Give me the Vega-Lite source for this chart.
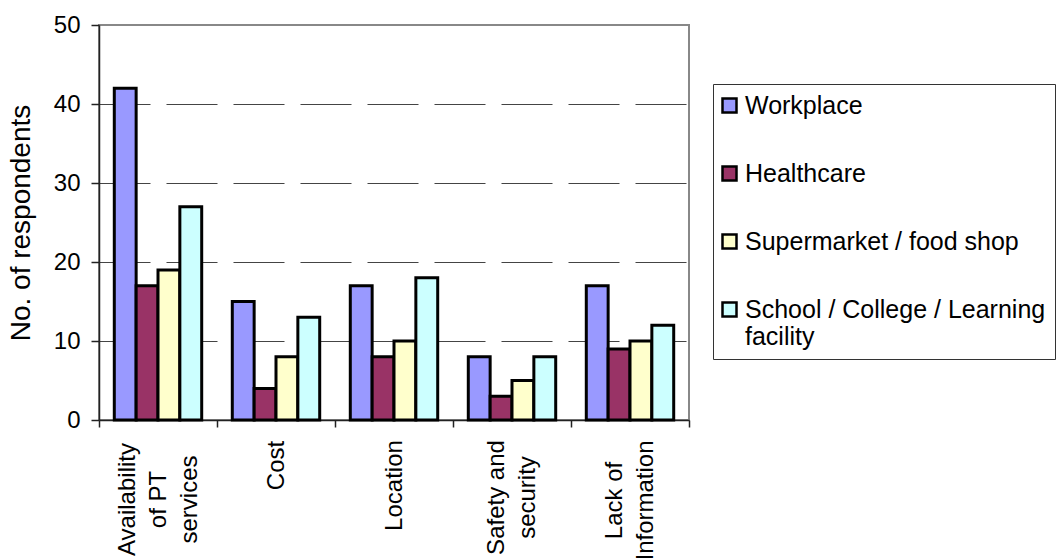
{
  "$schema": "https://vega.github.io/schema/vega-lite/v6.json",
  "width": 590,
  "height": 395,
  "autosize": {"type": "none"},
  "padding": {"left": 99, "top": 25, "right": 371, "bottom": 138},
  "background": "white",
  "data": {
    "values": [
      {"barrier": "Availability of PT services", "destination": "Workplace", "count": 42},
      {"barrier": "Availability of PT services", "destination": "Healthcare", "count": 17},
      {"barrier": "Availability of PT services", "destination": "Supermarket / food shop", "count": 19},
      {"barrier": "Availability of PT services", "destination": "School / College / Learning facility", "count": 27},
      {"barrier": "Cost", "destination": "Workplace", "count": 15},
      {"barrier": "Cost", "destination": "Healthcare", "count": 4},
      {"barrier": "Cost", "destination": "Supermarket / food shop", "count": 8},
      {"barrier": "Cost", "destination": "School / College / Learning facility", "count": 13},
      {"barrier": "Location", "destination": "Workplace", "count": 17},
      {"barrier": "Location", "destination": "Healthcare", "count": 8},
      {"barrier": "Location", "destination": "Supermarket / food shop", "count": 10},
      {"barrier": "Location", "destination": "School / College / Learning facility", "count": 18},
      {"barrier": "Safety and security", "destination": "Workplace", "count": 8},
      {"barrier": "Safety and security", "destination": "Healthcare", "count": 3},
      {"barrier": "Safety and security", "destination": "Supermarket / food shop", "count": 5},
      {"barrier": "Safety and security", "destination": "School / College / Learning facility", "count": 8},
      {"barrier": "Lack of Information", "destination": "Workplace", "count": 17},
      {"barrier": "Lack of Information", "destination": "Healthcare", "count": 9},
      {"barrier": "Lack of Information", "destination": "Supermarket / food shop", "count": 10},
      {"barrier": "Lack of Information", "destination": "School / College / Learning facility", "count": 12}
    ]
  },
  "mark": {"type": "bar", "stroke": "black", "strokeWidth": 3, "opacity": 1},
  "encoding": {
    "x": {
      "field": "barrier",
      "type": "nominal",
      "sort": ["Availability of PT services", "Cost", "Location", "Safety and security", "Lack of Information"],
      "scale": {"paddingInner": 0, "paddingOuter": 0},
      "axis": {
        "title": null,
        "tickBand": "extent",
        "labelAngle": -90,
        "labelAlign": "center",
        "labelBaseline": "middle",
        "labelFontSize": 24,
        "labelLineHeight": 31,
        "labelColor": "black",
        "labelOverlap": false,
        "labelLimit": 0,
        "labelExpr": "datum.value == 'Availability of PT services' ? ['Availability', 'of PT', 'services'] : datum.value == 'Safety and security' ? ['Safety and', 'security'] : datum.value == 'Lack of Information' ? ['Lack of', 'Information'] : datum.value",
        "labelPadding": {
          "condition": [
            {"test": "datum.value == 'Cost'", "value": 38},
            {"test": "datum.value == 'Location'", "value": 58},
            {"test": "datum.value == 'Safety and security'", "value": 70},
            {"test": "datum.value == 'Lack of Information'", "value": 73}
          ],
          "value": 72
        },
        "labelOffset": {
          "condition": [
            {"test": "datum.value == 'Availability of PT services'", "value": -31},
            {"test": "datum.value == 'Safety and security' || datum.value == 'Lack of Information'", "value": -15.5}
          ],
          "value": 0
        },
        "tickSize": 7,
        "tickColor": "#222",
        "tickWidth": 1.5,
        "domainColor": "#222",
        "domainWidth": 1.5,
        "grid": false
      }
    },
    "xOffset": {
      "field": "destination",
      "type": "nominal",
      "sort": ["Workplace", "Healthcare", "Supermarket / food shop", "School / College / Learning facility"],
      "scale": {"paddingInner": 0, "paddingOuter": 0.7}
    },
    "y": {
      "field": "count",
      "type": "quantitative",
      "scale": {"domain": [0, 50], "nice": false},
      "axis": {
        "title": "No. of respondents",
        "titleFontSize": 28,
        "titleFontWeight": "normal",
        "titleColor": "black",
        "titlePadding": 18,
        "values": [0, 10, 20, 30, 40, 50],
        "tickSize": 8,
        "tickColor": "#222",
        "tickWidth": 1.5,
        "labelPadding": 11,
        "labelFontSize": 24,
        "labelColor": "black",
        "labelFlush": false,
        "labelOverlap": false,
        "domainColor": "#222",
        "domainWidth": 1.5,
        "grid": true,
        "gridDash": [51, 16],
        "gridColor": "#444",
        "gridWidth": 1.2,
        "gridOpacity": {"condition": {"test": "datum.value == 0 || datum.value == 50", "value": 0}, "value": 1}
      }
    },
    "color": {
      "field": "destination",
      "type": "nominal",
      "sort": ["Workplace", "Healthcare", "Supermarket / food shop", "School / College / Learning facility"],
      "scale": {
        "domain": ["Workplace", "Healthcare", "Supermarket / food shop", "School / College / Learning facility"],
        "range": ["#9999FF", "#993366", "#FFFFCC", "#CCFFFF"]
      },
      "legend": {
        "title": null,
        "orient": "none",
        "legendX": 614,
        "legendY": 59,
        "symbolType": "square",
        "symbolSize": 196,
        "symbolStrokeColor": "black",
        "symbolStrokeWidth": 2.5,
        "symbolOpacity": 1,
        "symbolOffset": -5,
        "labelFontSize": 25,
        "labelColor": "black",
        "labelOffset": 3,
        "labelLimit": 0,
        "rowPadding": 42,
        "padding": 9,
        "strokeColor": "#333",
        "fillColor": "white",
        "labelExpr": "datum.label == 'School / College / Learning facility' ? ['School / College / Learning', 'facility'] : datum.label"
      }
    }
  },
  "config": {
    "font": "Liberation Sans",
    "view": {"stroke": "#888", "strokeWidth": 2}
  }
}
